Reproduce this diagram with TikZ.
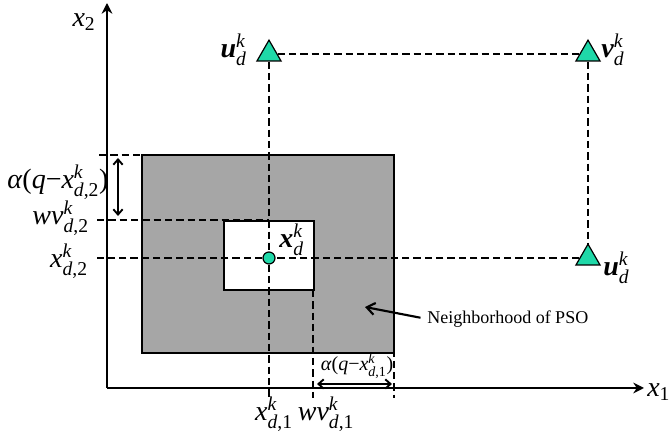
\documentclass[tikz,border=0pt]{standalone}
\usepackage{amsmath}
\usepackage{fontspec}
\setmainfont{Liberation Serif}
\usepackage{tikz}
\usetikzlibrary{arrows.meta, shapes.geometric}
\definecolor{mint}{HTML}{1FD8A8}
\definecolor{nbgray}{HTML}{A6A6A6}
\newcommand{\mi}[1]{\textit{#1}}
\newcommand{\bi}[1]{\textbf{\textit{#1}}}
\newcommand{\kd}[1]{$^{\text{\mi{k}}}_{\text{#1}}$}

\begin{document}
\begin{tikzpicture}[
    x=0.75pt, y=-0.75pt,
    mk/.style={regular polygon, regular polygon sides=3, draw, fill=mint, minimum size=20.8pt, inner sep=0pt, line width=0.9pt},
    ptdot/.style={circle, draw, fill=mint, minimum size=9pt, inner sep=0pt, line width=0.9pt},
    dsh/.style={line width=2pt, dash pattern=on 5.5pt off 3pt},
    axis/.style={line width=2pt, -{Stealth[length=8pt, width=8pt]}},
    span/.style={line width=1.4pt, {Straight Barb[length=4pt, width=7pt]}-{Straight Barb[length=4pt, width=7pt]}},
    lbl/.style={font=\fontsize{21}{24}\selectfont, inner sep=0pt},
    sml/.style={font=\fontsize{15}{17}\selectfont, inner sep=0pt}
]
\useasboundingbox (0,0) rectangle (669,438);
% Regions
\draw[fill=nbgray, line width=1.3pt] (142,155) rectangle (394,353);
\draw[fill=white, line width=1.3pt] (224,221) rectangle (314,290);
% Points
\node[mk] (ud) at (269,54) {};
\node[mk] (vd) at (588,54) {};
\node[mk] (ul) at (588,258) {};
\node[ptdot] (xd) at (269,258) {};
% Guide ends
\coordinate (h0) at (99,155);
\coordinate (h0e) at (210,155);
\coordinate (h1) at (97,220);
\coordinate (h1e) at (269,220);
\coordinate (h2) at (97,258);
\coordinate (v1) at (269,397);
\coordinate (v2t) at (313,290);
\coordinate (v2b) at (313,398);
\coordinate (v3t) at (394,338);
\coordinate (v3b) at (394,398);
% Dashed guides
\draw[dsh] (ud) -- (vd);
\draw[dsh] (vd) -- (ul);
\draw[dsh] (ul) -- (xd);
\draw[dsh] (xd) -- (h2);
\draw[dsh] (ud) -- (xd);
\draw[dsh] (xd) -- (v1);
\draw[dsh] (h0) -- (h0e);
\draw[dsh] (h1) -- (h1e);
\draw[dsh] (v2t) -- (v2b);
\draw[dsh] (v3t) -- (v3b);
% Spans
\coordinate (a2t) at (118,158);
\coordinate (a2b) at (118,216);
\coordinate (a1l) at (317,384);
\coordinate (a1r) at (392,384);
\draw[span] (a2t) -- (a2b);
\draw[span] (a1l) -- (a1r);
% Labels
\node[lbl, anchor=east] (lud) at (247,50) {\bi{u}\kd{\mi{d}}};
\node[lbl, anchor=west] (lvd) at (601,50) {\bi{v}\kd{\mi{d}}};
\node[lbl, anchor=west] (lul) at (603,268) {\bi{u}\kd{\mi{d}}};
\node[lbl, anchor=west] (lxd) at (279,240) {\bi{x}\kd{\mi{d}}};
\node[lbl, anchor=west] (la2) at (7,182) {\mi{α}(\mi{q}−\mi{x}\kd{\mi{d},2})};
\node[lbl, anchor=east] (lw2) at (89,218) {\mi{wv}\kd{\mi{d},2}};
\node[lbl, anchor=east] (lx2) at (88,261) {\mi{x}\kd{\mi{d},2}};
\node[lbl] (lx1) at (274,414) {\mi{x}\kd{\mi{d},1}};
\node[lbl] (lw1) at (326,414) {\mi{wv}\kd{\mi{d},1}};
\node[sml] (la1) at (357,366) {\mi{α}(\mi{q}−\mi{x}\kd{\mi{d},1})};
% Neighborhood
\node[font=\fontsize{13.5}{16}\selectfont, anchor=west, inner sep=0pt] (nb) at (427,319) {Neighborhood of PSO};
\coordinate (nbtip) at (365,307);
\draw[line width=1.6pt, -{Straight Barb[length=6pt, width=9pt]}, shorten <=5pt] (nb.west) -- (nbtip);
% Axes
\coordinate (o) at (107,388);
\coordinate (ytip) at (107,3);
\coordinate (xtip) at (644,388);
\draw[axis] (o) -- (ytip);
\draw[axis] (o) -- (xtip);
\node[lbl] (lx2ax) at (84,22) {\mi{x}$_{\text{2}}$};
\node[lbl, anchor=west] (lx1ax) at (647,392) {\mi{x}$_{\text{1}}$};
\end{tikzpicture}
\end{document}
